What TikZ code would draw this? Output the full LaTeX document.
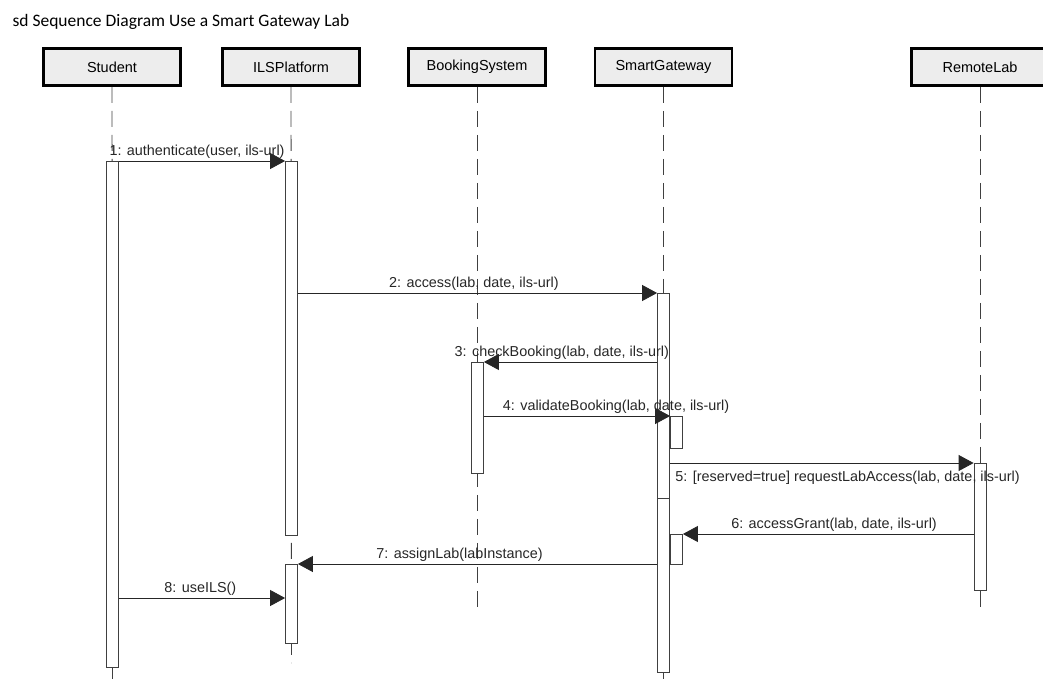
\documentclass[tikz,border=0pt]{standalone}
\usepackage{fontspec}
\setmainfont{Liberation Sans}
\newfontfamily\titlefont{Carlito}
\usetikzlibrary{arrows.meta,positioning}

\begin{document}
\begin{tikzpicture}[x=1pt,y=-1pt,
	head/.style={draw,line width=2.6pt,fill=gray!14,minimum width=137pt,minimum height=37pt,inner sep=0pt,font=\fontsize{14.5}{16}\selectfont},
	lifeline/.style={draw=black!75,line width=0.9pt,dash pattern=on 16pt off 8pt},
	act/.style={draw=black!75,fill=white,line width=0.8pt,minimum width=12pt,inner sep=0pt,anchor=north},
	msg/.style={draw=black!85,line width=0.8pt,-{Triangle[length=15pt,width=16pt]}},
	lbl/.style={font=\fontsize{14.4}{16}\selectfont,inner sep=2pt,text=black!85}]
	\useasboundingbox (0,0) rectangle (1043,682);

	\node[anchor=base west,font=\titlefont\fontsize{17.5}{19}\selectfont] (title) at (9,27) {sd Sequence Diagram Use a Smart Gateway Lab};

	% lifelines
	\node[head] (student) at (112,67) {Student};
	\node[head] (ils) at (291,67) {ILSPlatform};
	\node[head] (booking) at (477,67) {BookingSystem};
	\node[head] (gateway) at (663.5,67) {SmartGateway};
	\node[head] (remote) at (980,67) {RemoteLab};

	\coordinate (student end) at (112.5,682);
	\coordinate (ils end) at (291.5,663);
	\coordinate (booking end) at (477,607);
	\coordinate (gateway end) at (663.5,682);
	\coordinate (remote end) at (980,610);

	\draw[lifeline] (student.south) -- (student end);
	\draw[lifeline] (ils.south) -- (ils end);
	\draw[lifeline] (booking.south) -- (booking end);
	\draw[lifeline] (gateway.south) -- (gateway end);
	\draw[lifeline] (remote.south) -- (remote end);

	% activations
	\node[act,minimum height=506pt] (s1) at (112.5,161) {};
	\node[act,minimum height=374pt] (i1) at (291.5,161) {};
	\node[act,minimum height=79pt] (i2) at (291.5,564) {};
	\node[act,minimum height=111pt] (b1) at (477.5,362) {};
	\node[act,minimum height=205pt] (g1) at (663.5,293) {};
	\node[act,minimum height=174pt] (g2) at (663.5,498) {};
	\node[act,minimum height=32pt] (g3) at (676.5,416) {};
	\node[act,minimum height=30pt] (g4) at (676.5,534) {};
	\node[act,minimum height=127pt] (r1) at (980,463) {};

	% messages
	\draw[msg] (s1.north east) -- node[lbl,above,pos=0.47] {1: authenticate(user, ils-url)} (i1.north west);
	\draw[msg] (i1.east |- g1.north) -- node[lbl,above,pos=0.49] {2: access(lab, date, ils-url)} (g1.north west);
	\draw[msg] (g1.west |- b1.north) -- node[lbl,above,pos=0.55] {3: checkBooking(lab, date, ils-url)} (b1.north east);
	\draw[msg] (b1.east |- g3.north) -- node[lbl,above,pos=0.71] {4: validateBooking(lab, date, ils-url)} (g3.north west);
	\draw[msg] (g2.east |- r1.north) -- node[lbl,below,pos=0.585,inner sep=8pt] {5: [reserved=true] requestLabAccess(lab, date, ils-url)} (r1.north west);
	\draw[msg] (r1.west |- g4.north) -- node[lbl,above,pos=0.48] {6: accessGrant(lab, date, ils-url)} (g4.north east);
	\draw[msg] (g2.west |- i2.north) -- node[lbl,above,pos=0.55] {7: assignLab(labInstance)} (i2.north east);
	\draw[msg] (s1.east |- 0,598) -- node[lbl,above,pos=0.49] {8: useILS()} (i2.west |- 0,598);
\end{tikzpicture}
\end{document}
